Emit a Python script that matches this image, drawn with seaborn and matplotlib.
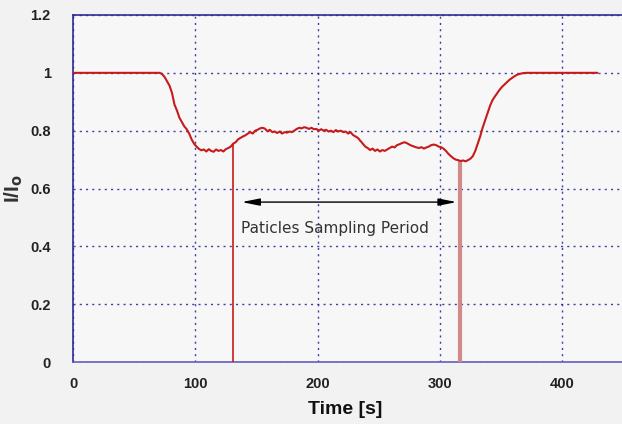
import matplotlib
matplotlib.use("Agg")
import matplotlib.pyplot as plt
import seaborn as sns
import pandas as pd

# ---- data ----
time_s = [0, 71, 73, 75, 77, 79, 81, 83, 85, 87, 89, 91, 93, 95, 97, 99, 101, 103, 105, 107,
          109, 111, 113, 115, 117, 119, 121, 123, 125, 127, 129, 131, 133, 135, 137, 139, 141,
          143, 145, 147, 149, 151, 153, 155, 157, 159, 161, 163, 165, 167, 169, 171, 173, 175,
          177, 179, 181, 183, 185, 187, 189, 191, 193, 195, 197, 199, 201, 203, 205, 207, 209,
          211, 213, 215, 217, 219, 221, 223, 225, 227, 229, 231, 233, 235, 237, 239, 241, 243,
          245, 247, 249, 251, 253, 255, 257, 259, 261, 263, 265, 267, 269, 271, 273, 275, 277,
          279, 281, 283, 285, 287, 289, 291, 293, 295, 297, 299, 301, 303, 305, 307, 309, 311,
          313, 315, 317, 319, 321, 323, 325, 327, 329, 331, 333, 335, 337, 339, 341, 343, 345,
          347, 349, 351, 353, 355, 357, 359, 361, 363, 365, 368, 371, 429]
intensity = [1.0, 1.0, 0.995, 0.985, 0.97, 0.955, 0.93, 0.89, 0.87, 0.845, 0.83, 0.815, 0.805,
             0.79, 0.77, 0.755, 0.745, 0.737, 0.732, 0.735, 0.728, 0.736, 0.73, 0.727, 0.735,
             0.73, 0.733, 0.728, 0.736, 0.74, 0.745, 0.755, 0.76, 0.77, 0.775, 0.78, 0.784,
             0.79, 0.795, 0.79, 0.8, 0.803, 0.808, 0.81, 0.807, 0.798, 0.803, 0.795, 0.797,
             0.792, 0.797, 0.79, 0.795, 0.793, 0.797, 0.795, 0.8, 0.806, 0.81, 0.808, 0.812,
             0.81, 0.806, 0.81, 0.805, 0.806, 0.8, 0.805, 0.8, 0.803, 0.797, 0.8, 0.795, 0.802,
             0.797, 0.8, 0.795, 0.797, 0.79, 0.795, 0.785, 0.78, 0.775, 0.765, 0.755, 0.745,
             0.74, 0.733, 0.738, 0.73, 0.735, 0.728, 0.733, 0.73, 0.735, 0.74, 0.745, 0.742,
             0.75, 0.753, 0.757, 0.76, 0.757, 0.752, 0.748, 0.745, 0.742, 0.74, 0.743, 0.738,
             0.742, 0.745, 0.75, 0.752, 0.75, 0.745, 0.743, 0.738, 0.73, 0.72, 0.712, 0.705,
             0.7, 0.698, 0.695, 0.697, 0.694, 0.698, 0.703, 0.712, 0.73, 0.755, 0.78, 0.81,
             0.835, 0.86, 0.885, 0.905, 0.918, 0.93, 0.942, 0.952, 0.96, 0.968, 0.976, 0.982,
             0.988, 0.993, 0.996, 0.999, 1.0, 1.0]

# sampling spikes (start / end of particle sampling)
spike_time = [131, 316.5]
spike_top = [0.755, 0.70]
spike_colors = ["#c81a1a", "#d08a8a"]
spike_widths = [1.2, 3.0]

x_ticks = [0, 100, 200, 300, 400]
x_tick_labels = ["0", "100", "200", "300", "400"]
y_ticks = [0, 0.2, 0.4, 0.6, 0.8, 1.0, 1.2]
y_tick_labels = ["0", "0.2", "0.4", "0.6", "0.8", "1", "1.2"]

arrow_start = 138
arrow_end = 313.7
arrow_level = 0.553
note_text = "Paticles Sampling Period"
note_x = 137
note_y = 0.462

# ---- plot ----
sns.set_theme(style="white")
plt.rcParams["font.family"] = ["Liberation Sans", "DejaVu Sans"]

fig = plt.figure(figsize=(6.22, 4.24), dpi=100, facecolor="#f2f2f2")
ax = fig.add_axes([73 / 622, 1 - 362 / 424, 1 - 73 / 622, (362 - 15) / 424])
ax.set_facecolor("#f7f7f7")

df = pd.DataFrame({"t": time_s, "I": intensity})
sns.lineplot(data=df, x="t", y="I", ax=ax, color="#c81a1a", linewidth=1.5,
             estimator=None, sort=False, zorder=4)

for xs, top, c, w in zip(spike_time, spike_top, spike_colors, spike_widths):
    ax.vlines(xs, 0, top, color=c, linewidth=w, zorder=3)

ax.annotate("", xy=(arrow_end, arrow_level), xytext=(arrow_start, arrow_level),
            arrowprops=dict(arrowstyle="<|-|>,head_length=0.9,head_width=0.18",
                            color="black", lw=1.0, shrinkA=0, shrinkB=0), zorder=5)
ax.text(note_x, note_y, note_text, fontsize=11, color="#333333",
        family=["DejaVu Sans"], ha="left", va="center", zorder=5)

ax.set_xlim(0, 449)
ax.set_ylim(0, 1.2)
ax.set_xticks(x_ticks)
ax.set_xticklabels(x_tick_labels)
ax.set_yticks(y_ticks)
ax.set_yticklabels(y_tick_labels)

navy = "#2b2b9a"
ax.grid(True, linestyle=(0, (1.5, 3)), color=navy, linewidth=1.0, alpha=0.9)
for side in ["left", "top", "bottom"]:
    ax.spines[side].set_visible(True)
    ax.spines[side].set_color(navy)
    ax.spines[side].set_linewidth(1.2)
ax.spines["bottom"].set_color("#6060bb")
ax.spines["right"].set_visible(False)

ax.tick_params(axis="both", direction="in", length=5, width=1, color=navy,
               labelsize=10.5, labelcolor="#222222")
ax.tick_params(axis="y", pad=16)
ax.tick_params(axis="x", pad=11)
for lab in ax.get_xticklabels() + ax.get_yticklabels():
    lab.set_fontweight("bold")

ax.set_xlabel("Time [s]", fontsize=14, fontweight="bold", color="#111111")
ax.set_ylabel("I/I$_\\mathbf{o}$", fontsize=15, fontweight="bold", color="#333333")
ax.xaxis.set_label_coords(0.495, -0.112)
ax.yaxis.set_label_coords(-0.088, 0.5)

fig.savefig("out.png", dpi=100, facecolor=fig.get_facecolor())
